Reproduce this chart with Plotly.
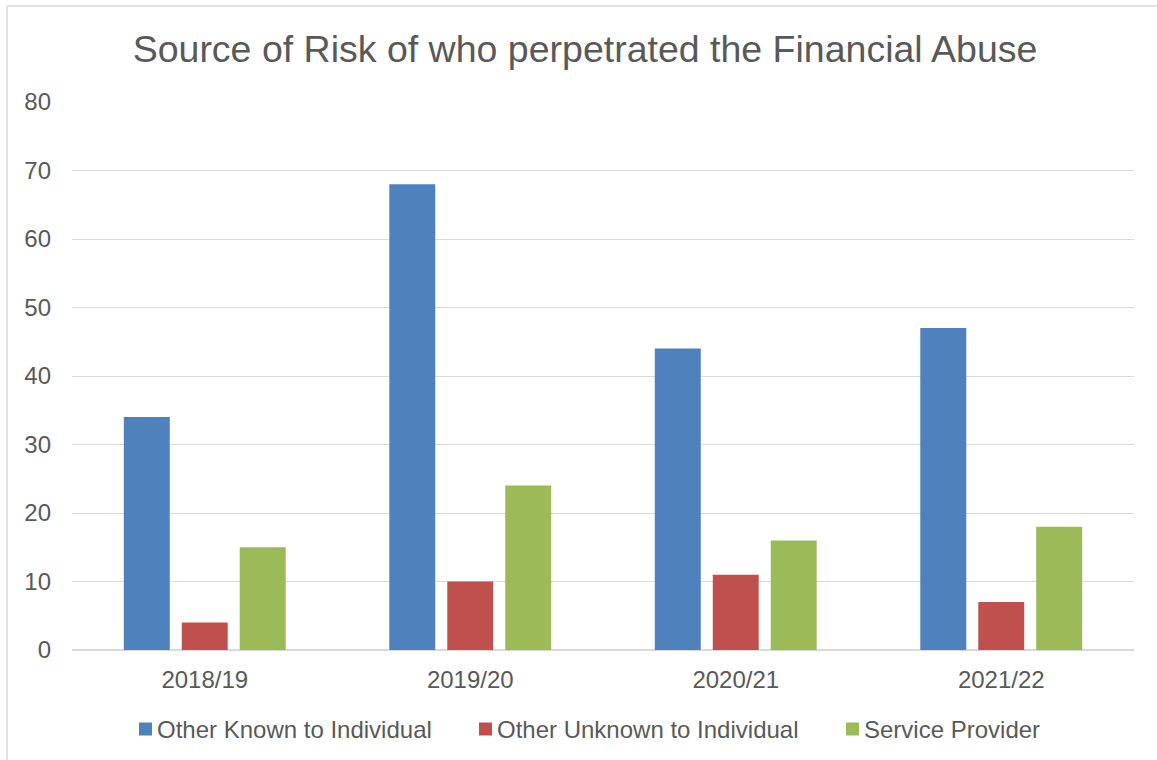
import plotly.graph_objects as go

# Financial abuse: source of risk, by year
years = ["2018/19", "2019/20", "2020/21", "2021/22"]
known = [34, 68, 44, 47]
unknown = [4, 10, 11, 7]
provider = [15, 24, 16, 18]

series_names = ["Other Known to Individual", "Other Unknown to Individual", "Service Provider"]
series_colors = ["#4F81BD", "#C0504D", "#9BBB59"]
y_ticks = [0, 10, 20, 30, 40, 50, 60, 70, 80]

font_family = "Liberation Sans, Arial, sans-serif"
text_color = "#595959"
grid_color = "#D9D9D9"

fig = go.Figure()
for name, vals, col in zip(series_names, [known, unknown, provider], series_colors):
    fig.add_trace(go.Bar(
        x=years, y=vals, name=name, showlegend=False,
        marker=dict(color=col, line=dict(width=0)),
    ))

W, H = 1157, 760
ml, mr, mt, mb = 72, 23, 102, 110
pw, ph = W - ml - mr, H - mt - mb


def px_x(px):
    return (px - ml) / pw


def px_y(py):
    return (H - mb - py) / ph


# Legend row below the axis: colour swatch followed by series name
legend_swatch_left = [139, 479, 846]
legend_text_left = [155, 495, 862]
legend_mid_y = 729
swatch = 13

shapes = [
    dict(type="line", xref="paper", yref="paper",
         x0=px_x(7), x1=px_x(W + 5), y0=px_y(6), y1=px_y(6),
         line=dict(color=grid_color, width=1.5)),
    dict(type="line", xref="paper", yref="paper",
         x0=px_x(7), x1=px_x(7), y0=px_y(6), y1=px_y(H + 5),
         line=dict(color=grid_color, width=1.5)),
]
annotations = []
for name, col, sx, tx in zip(series_names, series_colors, legend_swatch_left, legend_text_left):
    shapes.append(dict(
        type="rect", xref="paper", yref="paper",
        x0=px_x(sx), x1=px_x(sx + swatch),
        y0=px_y(legend_mid_y - swatch / 2), y1=px_y(legend_mid_y + swatch / 2),
        fillcolor=col, line=dict(width=0),
    ))
    annotations.append(dict(
        text=name, xref="paper", yref="paper",
        x=px_x(tx), y=px_y(legend_mid_y),
        xanchor="left", yanchor="middle", showarrow=False,
        font=dict(size=24, color=text_color, family=font_family),
    ))

fig.update_layout(
    width=W, height=H,
    margin=dict(l=ml, r=mr, t=mt, b=mb),
    paper_bgcolor="white",
    plot_bgcolor="white",
    font=dict(family=font_family, color=text_color, size=24),
    title=dict(
        text="Source of Risk of who perpetrated the Financial Abuse",
        x=585 / W, xref="container", xanchor="center",
        y=(H - 49) / H, yanchor="middle",
        font=dict(size=37.5, color=text_color, family=font_family),
    ),
    barmode="group",
    bargap=0.345,
    bargroupgap=0.207,
    xaxis=dict(
        showgrid=False, showline=False, zeroline=False,
        ticks="", tickfont=dict(size=24, color=text_color),
        ticklabelstandoff=13,
    ),
    yaxis=dict(
        range=[0, 80], tickvals=y_ticks,
        showgrid=True, gridcolor=grid_color, gridwidth=1,
        zeroline=True, zerolinecolor=grid_color, zerolinewidth=1.5,
        showline=False, ticks="",
        tickfont=dict(size=24, color=text_color),
        ticklabelstandoff=20,
    ),
    showlegend=False,
    shapes=shapes,
    annotations=annotations,
)

fig.write_html("out.html")
